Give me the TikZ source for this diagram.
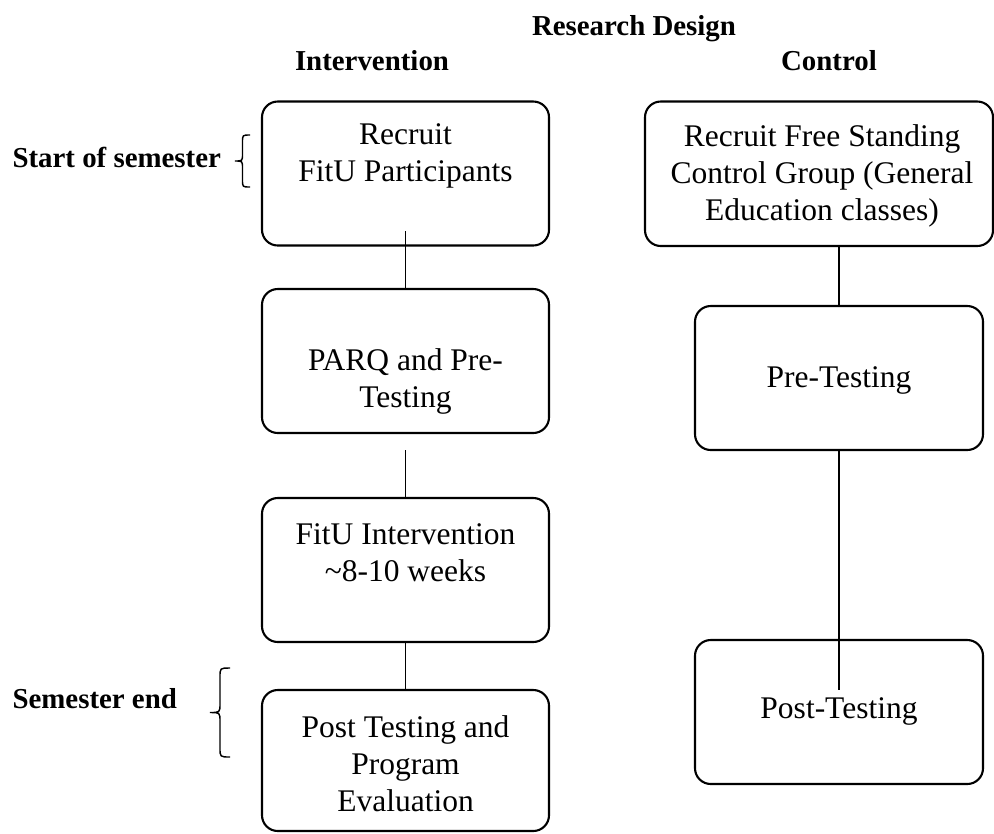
\documentclass[tikz,border=0pt]{standalone}
\usepackage{fontspec}
\setmainfont{Liberation Serif}
\newcommand\pxu{0.38095pt}
\begin{document}
\begin{tikzpicture}[x=0.38095pt,y=-0.38095pt,
  box/.style={draw, line width=0.8pt, rounded corners=6pt, inner sep=0pt},
  lbl/.style={font=\fontsize{12}{14.1}\selectfont, align=center, inner sep=0pt},
  head/.style={font=\fontsize{11}{13}\selectfont\bfseries, inner sep=0pt, anchor=base},
  conn/.style={line width=0.75pt},
  bracestyle/.style={line width=0.55pt}]
\useasboundingbox (0,0) rectangle (994,833);

% headers
\node[head] (rd) at (634,35) {Research Design};
\node[head] (hint) at (372,70) {Intervention};
\node[head] (hctl) at (829,70) {Control};

% side labels
\node[head, anchor=base west] (sos) at (12,167) {Start of semester};
\node[head, anchor=base west] (se) at (12,708) {Semester end};

% intervention boxes
\node[box, minimum width=287*\pxu, minimum height=144*\pxu] (L1) at (405.5,173.5) {};
\node[box, minimum width=287*\pxu, minimum height=144*\pxu] (L2) at (405.5,361) {};
\node[box, minimum width=287*\pxu, minimum height=144*\pxu] (L3) at (405.5,570) {};
\node[box, minimum width=287*\pxu, minimum height=141*\pxu] (L4) at (405.5,760.5) {};

\node[lbl] (t1) at (405.5,156) {Recruit\\FitU Participants};
\node[lbl] (t2) at (405.5,381) {PARQ and Pre-\\Testing};
\node[lbl] (t3) at (405.5,553) {FitU Intervention\\\textasciitilde8-10 weeks};
\node[lbl] (t4) at (405.5,764) {Post Testing and\\Program\\Evaluation};

% control boxes
\node[box, minimum width=348*\pxu, minimum height=144.5*\pxu] (R1) at (819,173.75) {};
\node[box, minimum width=288*\pxu, minimum height=144*\pxu] (R2) at (839,378) {};
\node[box, minimum width=288*\pxu, minimum height=144*\pxu] (R3) at (839,712) {};

\node[lbl] (t5) at (822,176) {Recruit Free Standing\\Control Group (General\\Education classes)};
\node[lbl] (t6) at (839,380) {Pre-Testing};
\node[lbl] (t7) at (839,711) {Post-Testing};

% connectors
\coordinate (c1) at (405.5,231);
\coordinate (c2) at (405.5,450);
\coordinate (c3) at (839,690);
\draw[conn] (c1) -- (L2.north);
\draw[conn] (c2) -- (L3.north);
\draw[conn] (L3.south) -- (L4.north);
\draw[conn] (R1.south -| R2.north) -- (R2.north);
\draw[conn] (R2.south) -- (c3);

% braces
\draw[bracestyle] (250,135) .. controls (242.5,135) .. (242.5,142)
  -- (242.5,154) .. controls (242.5,161) .. (235,161)
  .. controls (242.5,161) .. (242.5,168)
  -- (242.5,180) .. controls (242.5,187) .. (250,187);
\draw[bracestyle] (230,668) .. controls (220,668) .. (220,677)
  -- (220,703.5) .. controls (220,712.5) .. (210,712.5)
  .. controls (220,712.5) .. (220,721.5)
  -- (220,748) .. controls (220,757) .. (230,757);
\end{tikzpicture}
\end{document}
